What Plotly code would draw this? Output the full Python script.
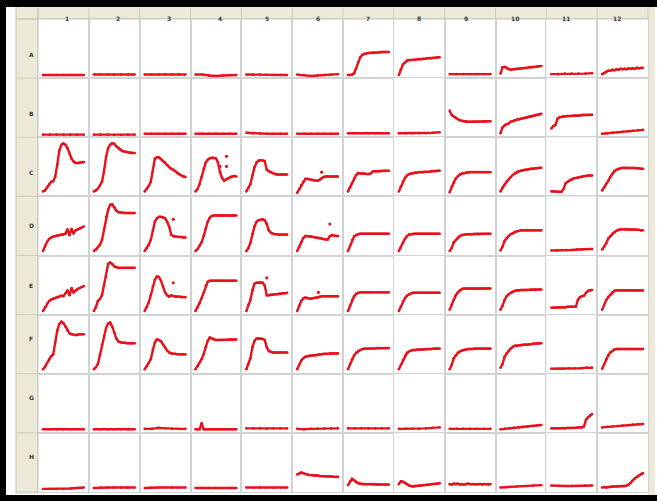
import plotly.graph_objects as go
from plotly.subplots import make_subplots

# ---------------- data (normalised signal per well) ----------------
ROW_LABELS = ["A", "B", "C", "D", "E", "F", "G", "H"]
COL_LABELS = ["1", "2", "3", "4", "5", "6", "7", "8", "9", "10", "11", "12"]

A = [
    [-0.04, -0.04, -0.04, -0.04, -0.04, -0.04, -0.04],
    [-0.03, -0.03, -0.03, -0.04, -0.03, -0.03, -0.03],
    [-0.03, -0.03, -0.03, -0.03, -0.03, -0.03, -0.03],
    [-0.03, -0.03, -0.05, -0.06, -0.05, -0.04, -0.04],
    [-0.03, -0.03, -0.03, -0.04, -0.04, -0.04, -0.04],
    [-0.03, -0.04, -0.06, -0.05, -0.04, -0.03, -0.02],
    [-0.04, -0.04, -0.03, 0.0, 0.10, 0.23, 0.33, 0.38, 0.40, 0.41, 0.42, 0.42, 0.43, 0.43, 0.43, 0.43, 0.44, 0.44, 0.44, 0.44, 0.44],
    [-0.04, 0.08, 0.18, 0.22, 0.26, 0.27, 0.27, 0.28, 0.28, 0.29, 0.29, 0.29, 0.30, 0.30, 0.31, 0.31, 0.31, 0.32, 0.32, 0.33, 0.33],
    [-0.02, -0.02, -0.02, -0.02, -0.02, -0.02, -0.02],
    [-0.01, 0.12, 0.13, 0.11, 0.08, 0.07, 0.08, 0.08, 0.09, 0.09, 0.10, 0.10, 0.11, 0.11, 0.12, 0.12, 0.13, 0.13, 0.14, 0.14, 0.15],
    [-0.02, -0.02, -0.01, -0.01, -0.01, -0.01, 0.0],
    [-0.02, 0.0, 0.03, 0.05, 0.05, 0.07, 0.06, 0.08, 0.07, 0.09, 0.08, 0.09, 0.08, 0.10, 0.09, 0.10, 0.09, 0.11, 0.10, 0.11, 0.11],
]
B = [
    [-0.05, -0.05, -0.05, -0.05, -0.05, -0.05, -0.05],
    [-0.05, -0.05, -0.05, -0.06, -0.06, -0.05, -0.05],
    [-0.03, -0.03, -0.03, -0.03, -0.03, -0.03, -0.03],
    [-0.03, -0.03, -0.03, -0.03, -0.03, -0.03, -0.03],
    [-0.01, -0.02, -0.03, -0.03, -0.03, -0.03, -0.03],
    [-0.03, -0.03, -0.03, -0.03, -0.03, -0.03, -0.03],
    [-0.02, -0.02, -0.02, -0.02, -0.02, -0.02, -0.02],
    [-0.02, -0.02, -0.02, -0.02, -0.02, -0.01, 0.0],
    [0.45, 0.36, 0.33, 0.30, 0.27, 0.25, 0.24, 0.23, 0.22, 0.22, 0.22, 0.22, 0.22, 0.22, 0.22, 0.22, 0.22, 0.23, 0.23, 0.23, 0.23],
    [-0.02, 0.10, 0.14, 0.17, 0.18, 0.22, 0.23, 0.25, 0.26, 0.27, 0.28, 0.29, 0.30, 0.31, 0.32, 0.33, 0.34, 0.35, 0.36, 0.37, 0.385],
    [0.08, 0.13, 0.15, 0.28, 0.31, 0.32, 0.33, 0.33, 0.34, 0.34, 0.34, 0.35, 0.35, 0.35, 0.35, 0.36, 0.36, 0.36, 0.36, 0.36, 0.365],
    [-0.03, -0.02, -0.01, 0.0, 0.01, 0.02, 0.03, 0.04, 0.05],
]
C = [
    [0.0, 0.02, 0.08, 0.15, 0.20, 0.21, 0.31, 0.56, 0.85, 0.97, 1.0, 0.97, 0.90, 0.79, 0.68, 0.62, 0.59, 0.59, 0.60, 0.61, 0.61],
    [0.0, 0.02, 0.06, 0.12, 0.20, 0.42, 0.72, 0.90, 0.97, 1.0, 0.99, 0.94, 0.90, 0.86, 0.84, 0.83, 0.82, 0.81, 0.80, 0.80, 0.80],
    [0.0, 0.05, 0.11, 0.20, 0.42, 0.68, 0.71, 0.71, 0.67, 0.63, 0.60, 0.55, 0.50, 0.47, 0.45, 0.42, 0.38, 0.35, 0.33, 0.31, 0.30],
    [0.0, 0.05, 0.15, 0.30, 0.47, 0.60, 0.66, 0.69, 0.70, 0.70, 0.69, 0.60, 0.40, 0.28, 0.22, 0.25, 0.27, 0.30, 0.31, 0.32, 0.31],
    [0.0, 0.07, 0.15, 0.33, 0.50, 0.60, 0.64, 0.65, 0.64, 0.63, 0.45, 0.42, 0.40, 0.38, 0.36, 0.35, 0.35, 0.35, 0.35, 0.35, 0.35],
    [-0.03, 0.05, 0.13, 0.20, 0.26, 0.26, 0.25, 0.24, 0.23, 0.22, 0.22, 0.24, 0.28, 0.30, 0.31, 0.31, 0.31, 0.31, 0.31, 0.31, 0.31],
    [0.0, 0.08, 0.17, 0.26, 0.34, 0.38, 0.37, 0.37, 0.37, 0.36, 0.36, 0.37, 0.41, 0.42, 0.42, 0.42, 0.42, 0.43, 0.43, 0.43, 0.43],
    [0.0, 0.10, 0.20, 0.28, 0.33, 0.36, 0.37, 0.38, 0.39, 0.39, 0.40, 0.40, 0.40, 0.41, 0.41, 0.41, 0.42, 0.42, 0.42, 0.43, 0.43],
    [-0.02, 0.10, 0.18, 0.27, 0.32, 0.35, 0.37, 0.38, 0.39, 0.40, 0.40, 0.40, 0.40, 0.40, 0.40, 0.40, 0.40, 0.40, 0.40, 0.40, 0.40],
    [0.0, 0.08, 0.14, 0.20, 0.25, 0.30, 0.34, 0.37, 0.40, 0.42, 0.43, 0.44, 0.45, 0.45, 0.46, 0.47, 0.47, 0.48, 0.48, 0.49, 0.49],
    [0.0, 0.0, 0.0, -0.01, -0.01, -0.01, 0.05, 0.17, 0.20, 0.23, 0.25, 0.27, 0.28, 0.29, 0.30, 0.31, 0.32, 0.32, 0.33, 0.33, 0.33],
    [0.02, 0.08, 0.16, 0.22, 0.30, 0.37, 0.42, 0.45, 0.47, 0.48, 0.49, 0.49, 0.49, 0.49, 0.49, 0.49, 0.49, 0.48, 0.48, 0.47, 0.47],
]
D = [
    [-0.01, 0.10, 0.18, 0.24, 0.27, 0.29, 0.30, 0.31, 0.32, 0.33, 0.33, 0.35, 0.44, 0.32, 0.45, 0.36, 0.42, 0.44, 0.46, 0.48, 0.50],
    [-0.01, 0.02, 0.07, 0.12, 0.22, 0.45, 0.70, 0.85, 0.95, 0.96, 0.90, 0.83, 0.80, 0.79, 0.79, 0.78, 0.78, 0.78, 0.78, 0.78, 0.78],
    [-0.01, 0.05, 0.12, 0.22, 0.42, 0.60, 0.67, 0.70, 0.70, 0.69, 0.67, 0.60, 0.50, 0.33, 0.30, 0.29, 0.29, 0.28, 0.28, 0.27, 0.27],
    [-0.01, 0.03, 0.10, 0.17, 0.30, 0.45, 0.60, 0.68, 0.72, 0.73, 0.73, 0.73, 0.73, 0.73, 0.73, 0.73, 0.73, 0.73, 0.73, 0.73, 0.73],
    [-0.01, 0.05, 0.16, 0.35, 0.50, 0.60, 0.63, 0.64, 0.65, 0.63, 0.55, 0.42, 0.37, 0.35, 0.34, 0.34, 0.33, 0.33, 0.33, 0.33, 0.33],
    [-0.01, 0.07, 0.17, 0.26, 0.30, 0.30, 0.29, 0.29, 0.28, 0.27, 0.27, 0.26, 0.25, 0.24, 0.23, 0.23, 0.30, 0.32, 0.31, 0.30, 0.30],
    [-0.01, 0.10, 0.22, 0.29, 0.32, 0.34, 0.35, 0.35, 0.35, 0.35, 0.35, 0.35, 0.35, 0.35, 0.35, 0.35, 0.35, 0.35, 0.35, 0.35, 0.35],
    [-0.01, 0.06, 0.16, 0.24, 0.30, 0.33, 0.34, 0.35, 0.35, 0.35, 0.35, 0.35, 0.35, 0.35, 0.35, 0.35, 0.35, 0.35, 0.35, 0.35, 0.35],
    [-0.01, 0.05, 0.17, 0.22, 0.27, 0.30, 0.32, 0.33, 0.34, 0.34, 0.34, 0.34, 0.35, 0.35, 0.35, 0.35, 0.35, 0.35, 0.35, 0.35, 0.35],
    [0.0, 0.08, 0.20, 0.26, 0.30, 0.34, 0.36, 0.39, 0.40, 0.41, 0.42, 0.42, 0.42, 0.42, 0.42, 0.42, 0.42, 0.42, 0.42, 0.42, 0.42],
    [0.0, 0.0, 0.01, 0.01, 0.01, 0.02, 0.02, 0.03, 0.03],
    [0.02, 0.08, 0.15, 0.25, 0.30, 0.35, 0.38, 0.41, 0.43, 0.44, 0.44, 0.44, 0.44, 0.44, 0.44, 0.44, 0.44, 0.43, 0.43, 0.42, 0.42],
]
E = [
    [-0.03, 0.05, 0.12, 0.18, 0.21, 0.23, 0.24, 0.26, 0.27, 0.29, 0.28, 0.34, 0.40, 0.30, 0.45, 0.36, 0.40, 0.43, 0.45, 0.47, 0.49],
    [-0.03, 0.05, 0.18, 0.22, 0.30, 0.50, 0.68, 0.95, 0.98, 0.95, 0.90, 0.88, 0.87, 0.87, 0.87, 0.87, 0.87, 0.87, 0.87, 0.87, 0.87],
    [-0.03, 0.05, 0.15, 0.30, 0.48, 0.62, 0.69, 0.68, 0.60, 0.48, 0.36, 0.30, 0.27, 0.30, 0.28, 0.27, 0.27, 0.27, 0.26, 0.26, 0.26],
    [-0.03, 0.04, 0.14, 0.24, 0.35, 0.50, 0.58, 0.60, 0.60, 0.60, 0.60, 0.60, 0.60, 0.60, 0.60, 0.60, 0.60, 0.60, 0.60, 0.60, 0.60],
    [-0.03, 0.10, 0.20, 0.40, 0.54, 0.56, 0.56, 0.57, 0.56, 0.50, 0.30, 0.30, 0.31, 0.31, 0.32, 0.32, 0.33, 0.33, 0.34, 0.34, 0.35],
    [-0.03, 0.08, 0.18, 0.23, 0.25, 0.24, 0.23, 0.23, 0.24, 0.25, 0.25, 0.27, 0.28, 0.28, 0.28, 0.28, 0.28, 0.28, 0.28, 0.28, 0.28],
    [-0.03, 0.08, 0.20, 0.28, 0.33, 0.35, 0.36, 0.36, 0.36, 0.36, 0.36, 0.36, 0.36, 0.36, 0.36, 0.36, 0.36, 0.36, 0.36, 0.36, 0.36],
    [-0.03, 0.06, 0.17, 0.24, 0.29, 0.32, 0.34, 0.35, 0.35, 0.35, 0.35, 0.35, 0.35, 0.35, 0.35, 0.35, 0.35, 0.35, 0.35, 0.35, 0.35],
    [0.0, 0.10, 0.21, 0.30, 0.36, 0.40, 0.43, 0.44, 0.44, 0.44, 0.44, 0.44, 0.44, 0.44, 0.44, 0.44, 0.44, 0.44, 0.44, 0.44, 0.44],
    [0.0, 0.08, 0.20, 0.28, 0.32, 0.35, 0.37, 0.39, 0.40, 0.40, 0.41, 0.41, 0.41, 0.41, 0.41, 0.42, 0.42, 0.42, 0.42, 0.42, 0.42],
    [0.04, 0.04, 0.04, 0.05, 0.05, 0.05, 0.05, 0.05, 0.06, 0.06, 0.06, 0.06, 0.06, 0.20, 0.26, 0.28, 0.29, 0.35, 0.39, 0.40, 0.41],
    [0.0, 0.10, 0.20, 0.26, 0.31, 0.36, 0.39, 0.40, 0.40, 0.40, 0.40, 0.40, 0.40, 0.40, 0.40, 0.40, 0.40, 0.40, 0.40, 0.40, 0.40],
]
F = [
    [-0.01, 0.04, 0.12, 0.20, 0.26, 0.30, 0.55, 0.80, 0.93, 0.98, 0.95, 0.88, 0.80, 0.74, 0.72, 0.71, 0.70, 0.71, 0.72, 0.72, 0.72],
    [-0.01, 0.03, 0.10, 0.30, 0.50, 0.68, 0.85, 0.94, 0.96, 0.88, 0.75, 0.63, 0.57, 0.55, 0.54, 0.54, 0.53, 0.53, 0.53, 0.53, 0.53],
    [-0.01, 0.05, 0.12, 0.20, 0.40, 0.55, 0.61, 0.60, 0.57, 0.50, 0.44, 0.38, 0.34, 0.32, 0.31, 0.31, 0.30, 0.30, 0.30, 0.30, 0.30],
    [-0.01, 0.05, 0.13, 0.20, 0.30, 0.45, 0.58, 0.65, 0.63, 0.61, 0.60, 0.60, 0.60, 0.60, 0.60, 0.60, 0.61, 0.61, 0.61, 0.61, 0.61],
    [-0.01, 0.10, 0.22, 0.45, 0.58, 0.63, 0.63, 0.63, 0.62, 0.60, 0.45, 0.37, 0.35, 0.34, 0.34, 0.34, 0.34, 0.34, 0.34, 0.34, 0.34],
    [-0.01, 0.08, 0.17, 0.22, 0.25, 0.26, 0.27, 0.27, 0.28, 0.28, 0.29, 0.30, 0.30, 0.31, 0.31, 0.31, 0.32, 0.32, 0.32, 0.32, 0.32],
    [-0.01, 0.10, 0.20, 0.28, 0.33, 0.37, 0.39, 0.41, 0.42, 0.42, 0.42, 0.42, 0.42, 0.42, 0.43, 0.43, 0.43, 0.43, 0.43, 0.43, 0.43],
    [-0.01, 0.08, 0.18, 0.27, 0.33, 0.36, 0.38, 0.39, 0.39, 0.40, 0.40, 0.40, 0.40, 0.41, 0.41, 0.41, 0.41, 0.42, 0.42, 0.42, 0.42],
    [-0.01, 0.08, 0.22, 0.28, 0.33, 0.36, 0.38, 0.39, 0.40, 0.41, 0.41, 0.41, 0.42, 0.42, 0.42, 0.42, 0.42, 0.42, 0.42, 0.42, 0.42],
    [0.02, 0.10, 0.25, 0.32, 0.37, 0.42, 0.46, 0.48, 0.48, 0.49, 0.49, 0.50, 0.50, 0.50, 0.51, 0.51, 0.52, 0.52, 0.53, 0.53, 0.53],
    [0.0, 0.0, 0.0, 0.01, 0.01, 0.01, 0.02, 0.02],
    [0.0, 0.10, 0.20, 0.28, 0.34, 0.37, 0.40, 0.41, 0.41, 0.41, 0.41, 0.41, 0.41, 0.41, 0.41, 0.41, 0.41, 0.41, 0.41, 0.41, 0.41],
]
G = [
    [-0.03, -0.03, -0.03, -0.03, -0.03, -0.03, -0.03],
    [-0.03, -0.03, -0.03, -0.03, -0.03, -0.03, -0.03],
    [-0.02, -0.02, 0.0, -0.01, -0.02, -0.02, -0.02],
    [-0.03, -0.03, -0.03, 0.10, -0.03, -0.03, -0.03, -0.03, -0.03, -0.03, -0.03, -0.03, -0.03, -0.03, -0.03, -0.03, -0.03, -0.03, -0.03, -0.03, -0.03],
    [-0.01, -0.01, -0.01, -0.02, -0.01, -0.01, -0.01],
    [-0.02, -0.03, -0.02, -0.02, -0.01, -0.01, -0.01],
    [-0.01, -0.01, -0.01, -0.01, -0.01, -0.01, -0.01],
    [-0.02, -0.02, -0.02, -0.02, -0.01, 0.0, 0.01],
    [-0.02, -0.02, -0.02, -0.02, -0.02, -0.02, -0.02],
    [-0.03, -0.02, -0.01, 0.0, 0.01, 0.02, 0.03, 0.04, 0.05, 0.06],
    [-0.01, -0.01, -0.01, -0.01, -0.01, -0.01, -0.01, -0.01, 0.0, 0.0, 0.0, 0.0, 0.0, 0.01, 0.01, 0.01, 0.03, 0.17, 0.22, 0.26, 0.29],
    [0.01, 0.02, 0.03, 0.04, 0.05, 0.06, 0.07, 0.08, 0.08],
]
H = [
    [-0.04, -0.04, -0.04, -0.04, -0.03, -0.02, -0.01],
    [-0.02, -0.01, -0.01, -0.01, -0.01, -0.01, -0.01],
    [-0.02, -0.01, -0.01, -0.01, -0.01, -0.01, -0.01],
    [-0.02, -0.02, -0.02, -0.02, -0.02, -0.02, -0.02],
    [-0.01, -0.01, -0.01, -0.01, -0.01, -0.01, -0.01],
    [0.26, 0.28, 0.30, 0.29, 0.27, 0.26, 0.25, 0.25, 0.24, 0.24, 0.24, 0.23, 0.23, 0.23, 0.22, 0.22, 0.22, 0.22, 0.21, 0.21, 0.21],
    [0.04, 0.12, 0.17, 0.14, 0.10, 0.08, 0.07, 0.06, 0.06, 0.06, 0.06, 0.06, 0.06, 0.05, 0.05, 0.05, 0.05, 0.05, 0.05, 0.05, 0.05],
    [0.06, 0.12, 0.11, 0.09, 0.06, 0.03, 0.02, 0.01, 0.02, 0.02, 0.03, 0.03, 0.04, 0.04, 0.05, 0.05, 0.06, 0.06, 0.07, 0.07, 0.08],
    [0.06, 0.05, 0.07, 0.06, 0.07, 0.05, 0.06, 0.05, 0.06, 0.07, 0.06, 0.06, 0.06, 0.05, 0.06, 0.06, 0.05, 0.06, 0.06, 0.05, 0.06],
    [-0.01, 0.0, 0.01, 0.02, 0.03, 0.04],
    [0.03, 0.02, 0.02, 0.02, 0.02, 0.03, 0.03],
    [-0.01, 0.0, -0.01, 0.0, 0.0, 0.01, 0.01, 0.01, 0.01, 0.02, 0.02, 0.02, 0.03, 0.05, 0.09, 0.14, 0.18, 0.21, 0.24, 0.27, 0.29],
]

# isolated stray readings (well, time fraction, value)
OUT_WELL = ["C4", "C4", "C4", "C6", "D3", "D6", "E3", "E5", "E6"]
OUT_T = [0.60, 0.76, 0.76, 0.60, 0.70, 0.80, 0.70, 0.50, 0.52]
OUT_V = [0.52, 0.73, 0.52, 0.40, 0.65, 0.55, 0.56, 0.66, 0.36]

PLATE = [A, B, C, D, E, F, G, H]

# ---------------- styling ----------------
RED = "rgb(232,18,28)"
BEIGE = "#ECE9D8"
GRID = "#D2D2D2"
W, HGT = 657, 501
L, R, T, BOT = 38, 648, 19, 492  # plate grid in pixels

fig = make_subplots(rows=8, cols=12, horizontal_spacing=0, vertical_spacing=0)

for ri, row in enumerate(PLATE):
    for ci, vals in enumerate(row):
        n = len(vals)
        t = [i / (n - 1) for i in range(n)]
        fig.add_trace(go.Scatter(x=t, y=vals, mode="lines+markers",
                                 line=dict(color=RED, width=2.4),
                                 marker=dict(color=RED, size=2.6),
                                 hoverinfo="skip", showlegend=False),
                      row=ri + 1, col=ci + 1)

for w, tt, vv in zip(OUT_WELL, OUT_T, OUT_V):
    ri = ROW_LABELS.index(w[0])
    ci = COL_LABELS.index(w[1:])
    fig.add_trace(go.Scatter(x=[tt], y=[vv], mode="markers",
                             marker=dict(color=RED, size=3.2),
                             hoverinfo="skip", showlegend=False),
                  row=ri + 1, col=ci + 1)

fig.update_xaxes(range=[-0.1225, 1.1225], showticklabels=False, ticks="", showgrid=False,
                 zeroline=False, showline=True, mirror=True, linecolor=GRID, linewidth=1)
fig.update_yaxes(range=[-0.104, 1.127], showticklabels=False, ticks="", showgrid=False,
                 zeroline=False, showline=True, mirror=True, linecolor=GRID, linewidth=1)


def px(x):
    return (x - L) / (R - L)


def py(y):
    return (BOT - y) / (BOT - T)


shapes = []


def rect(x0, y0, x1, y1, color):
    shapes.append(dict(type="rect", xref="paper", yref="paper", layer="below",
                       x0=px(x0), x1=px(x1), y0=py(y1), y1=py(y0),
                       fillcolor=color, line=dict(width=0)))


def seg(x0, y0, x1, y1, color, width=1):
    shapes.append(dict(type="line", xref="paper", yref="paper", layer="above",
                       x0=px(x0), x1=px(x1), y0=py(y0), y1=py(y1),
                       line=dict(color=color, width=width)))


# header row / column and right strip
rect(16, 7, R, T, BEIGE)
rect(16, T, L, BOT + 2, BEIGE)
rect(R, 7, 655, 495, BEIGE)
cw = (R - L) / 12
rh = (BOT - T) / 8
for k in range(13):
    xk = L + k * cw
    seg(xk, 8, xk, T, "#CFCCBE")
for k in range(9):
    yk = T + k * rh
    seg(16, yk, L, yk, "#CFCCBE")
seg(16, T, R, T, "#C9C6B8")
seg(16, 7, 16, BOT + 2, "#C9C6B8")
seg(L, 8, L, BOT, "#C9C6B8")
# black frame
rect(0, 0, W, 7, "black")
rect(0, 0, 6, HGT, "black")
rect(0, 495, W, HGT, "black")

annotations = []
for k, lab in enumerate(COL_LABELS):
    annotations.append(dict(x=px(L + (k + 0.5) * cw), y=py(13.5), xref="paper", yref="paper",
                            text="<b>%s</b>" % lab, showarrow=False,
                            font=dict(size=6, color="#3a3a3a", family="DejaVu Sans")))
for k, lab in enumerate(ROW_LABELS):
    annotations.append(dict(x=px(27), y=py(T + (k + 0.5) * rh), xref="paper", yref="paper",
                            text="<b>%s</b>" % lab, showarrow=False,
                            font=dict(size=6, color="#3a3a3a", family="DejaVu Sans")))

fig.update_layout(width=W, height=HGT,
                  margin=dict(l=L, r=W - R, t=T, b=HGT - BOT, pad=0),
                  paper_bgcolor="white", plot_bgcolor="white",
                  shapes=shapes, annotations=annotations, showlegend=False)

fig.write_html("out.html")
